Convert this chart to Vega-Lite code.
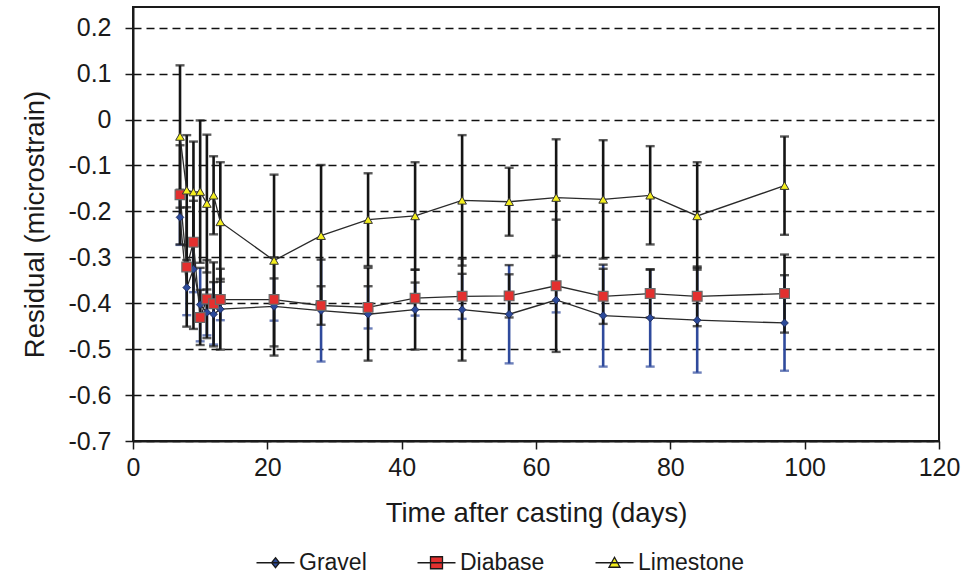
{
  "$schema": "https://vega.github.io/schema/vega-lite/v6.json",
  "width": 806,
  "height": 434,
  "autosize": {"type": "none"},
  "padding": {"left": 133, "top": 7, "right": 24, "bottom": 137},
  "background": "white",
  "config": {
    "font": "Liberation Sans",
    "view": {"stroke": "#1a1a1a", "strokeWidth": 2}
  },
  "data": {
    "values": [
      {"day": 7, "material": "Gravel", "value": -0.213, "lo": -0.273, "hi": -0.153},
      {"day": 8, "material": "Gravel", "value": -0.366, "lo": -0.426, "hi": -0.306},
      {"day": 9, "material": "Gravel", "value": -0.326, "lo": -0.376, "hi": -0.276},
      {"day": 10, "material": "Gravel", "value": -0.403, "lo": -0.483, "hi": -0.323},
      {"day": 11, "material": "Gravel", "value": -0.42, "lo": -0.47, "hi": -0.37},
      {"day": 12, "material": "Gravel", "value": -0.424, "lo": -0.49, "hi": -0.354},
      {"day": 13, "material": "Gravel", "value": -0.413, "lo": -0.437, "hi": -0.347},
      {"day": 21, "material": "Gravel", "value": -0.407, "lo": -0.438, "hi": -0.346},
      {"day": 28, "material": "Gravel", "value": -0.416, "lo": -0.527, "hi": -0.305},
      {"day": 35, "material": "Gravel", "value": -0.424, "lo": -0.455, "hi": -0.363},
      {"day": 42, "material": "Gravel", "value": -0.414, "lo": -0.427, "hi": -0.355},
      {"day": 49, "material": "Gravel", "value": -0.414, "lo": -0.434, "hi": -0.336},
      {"day": 56, "material": "Gravel", "value": -0.424, "lo": -0.531, "hi": -0.317},
      {"day": 63, "material": "Gravel", "value": -0.393, "lo": -0.42, "hi": -0.366},
      {"day": 70, "material": "Gravel", "value": -0.427, "lo": -0.538, "hi": -0.316},
      {"day": 77, "material": "Gravel", "value": -0.432, "lo": -0.538, "hi": -0.326},
      {"day": 84, "material": "Gravel", "value": -0.437, "lo": -0.551, "hi": -0.323},
      {"day": 97, "material": "Gravel", "value": -0.443, "lo": -0.547, "hi": -0.339},
      {"day": 7, "material": "Diabase", "value": -0.164, "lo": -0.272, "hi": -0.056},
      {"day": 8, "material": "Diabase", "value": -0.321, "lo": -0.451, "hi": -0.191},
      {"day": 9, "material": "Diabase", "value": -0.267, "lo": -0.456, "hi": -0.177},
      {"day": 10, "material": "Diabase", "value": -0.431, "lo": -0.491, "hi": -0.371},
      {"day": 11, "material": "Diabase", "value": -0.391, "lo": -0.476, "hi": -0.306},
      {"day": 12, "material": "Diabase", "value": -0.401, "lo": -0.494, "hi": -0.311},
      {"day": 13, "material": "Diabase", "value": -0.392, "lo": -0.501, "hi": -0.325},
      {"day": 21, "material": "Diabase", "value": -0.392, "lo": -0.514, "hi": -0.3},
      {"day": 28, "material": "Diabase", "value": -0.405, "lo": -0.447, "hi": -0.363},
      {"day": 35, "material": "Diabase", "value": -0.409, "lo": -0.525, "hi": -0.323},
      {"day": 42, "material": "Diabase", "value": -0.389, "lo": -0.501, "hi": -0.327},
      {"day": 49, "material": "Diabase", "value": -0.385, "lo": -0.525, "hi": -0.303},
      {"day": 56, "material": "Diabase", "value": -0.384, "lo": -0.431, "hi": -0.337},
      {"day": 63, "material": "Diabase", "value": -0.362, "lo": -0.506, "hi": -0.218},
      {"day": 70, "material": "Diabase", "value": -0.385, "lo": -0.445, "hi": -0.325},
      {"day": 77, "material": "Diabase", "value": -0.379, "lo": -0.431, "hi": -0.327},
      {"day": 84, "material": "Diabase", "value": -0.385, "lo": -0.45, "hi": -0.32},
      {"day": 97, "material": "Diabase", "value": -0.379, "lo": -0.464, "hi": -0.294},
      {"day": 7, "material": "Limestone", "value": -0.037, "lo": -0.192, "hi": 0.118},
      {"day": 8, "material": "Limestone", "value": -0.154, "lo": -0.274, "hi": -0.034},
      {"day": 9, "material": "Limestone", "value": -0.158, "lo": -0.268, "hi": -0.048},
      {"day": 10, "material": "Limestone", "value": -0.157, "lo": -0.312, "hi": -0.002},
      {"day": 11, "material": "Limestone", "value": -0.183, "lo": -0.333, "hi": -0.033},
      {"day": 12, "material": "Limestone", "value": -0.165, "lo": -0.25, "hi": -0.08},
      {"day": 13, "material": "Limestone", "value": -0.223, "lo": -0.353, "hi": -0.093},
      {"day": 21, "material": "Limestone", "value": -0.307, "lo": -0.494, "hi": -0.12},
      {"day": 28, "material": "Limestone", "value": -0.253, "lo": -0.407, "hi": -0.099},
      {"day": 35, "material": "Limestone", "value": -0.218, "lo": -0.319, "hi": -0.117},
      {"day": 42, "material": "Limestone", "value": -0.21, "lo": -0.327, "hi": -0.093},
      {"day": 49, "material": "Limestone", "value": -0.176, "lo": -0.318, "hi": -0.034},
      {"day": 56, "material": "Limestone", "value": -0.179, "lo": -0.253, "hi": -0.105},
      {"day": 63, "material": "Limestone", "value": -0.17, "lo": -0.297, "hi": -0.043},
      {"day": 70, "material": "Limestone", "value": -0.174, "lo": -0.303, "hi": -0.045},
      {"day": 77, "material": "Limestone", "value": -0.165, "lo": -0.272, "hi": -0.058},
      {"day": 84, "material": "Limestone", "value": -0.21, "lo": -0.327, "hi": -0.093},
      {"day": 97, "material": "Limestone", "value": -0.144, "lo": -0.251, "hi": -0.037}
    ]
  },
  "encoding": {
    "x": {
      "field": "day",
      "type": "quantitative",
      "title": "Time after casting (days)",
      "scale": {"domain": [0, 120], "nice": false},
      "axis": {
        "values": [0, 20, 40, 60, 80, 100, 120],
        "grid": false,
        "labelFlush": false,
        "domainColor": "#1a1a1a",
        "domainWidth": 2,
        "tickColor": "#1a1a1a",
        "tickWidth": 1.5,
        "tickSize": 8,
        "labelFontSize": 25,
        "labelColor": "#1a1a1a",
        "labelPadding": 6,
        "titleFontSize": 27.5,
        "titleFontWeight": "normal",
        "titleColor": "#1a1a1a",
        "titlePadding": 19
      }
    }
  },
  "layer": [
    {
      "transform": [{"filter": "datum.material == 'Gravel'"}],
      "mark": {"type": "rule", "color": "#2f4a9c", "strokeWidth": 2.6},
      "encoding": {
        "y": {
          "field": "lo",
          "type": "quantitative",
          "title": "Residual (microstrain)",
          "scale": {"domain": [-0.7, 0.245], "nice": false, "zero": false},
          "axis": {
            "values": [-0.7, -0.6, -0.5, -0.4, -0.3, -0.2, -0.1, 0, 0.1, 0.2],
            "labelExpr": "'' + datum.value",
            "labelFlush": false,
            "grid": true,
            "gridColor": "#111111",
            "gridDash": [8, 5],
            "gridWidth": 1.6,
            "domainColor": "#1a1a1a",
            "domainWidth": 2,
            "tickColor": "#1a1a1a",
            "tickWidth": 1.5,
            "tickSize": 8,
            "labelFontSize": 25,
            "labelColor": "#1a1a1a",
            "labelPadding": 14,
            "titleFontSize": 27.5,
            "titleFontWeight": "normal",
            "titleColor": "#1a1a1a",
            "titlePadding": 18
          }
        },
        "y2": {"field": "hi"}
      }
    },
    {
      "transform": [{"filter": "datum.material == 'Gravel'"}],
      "mark": {"type": "tick", "orient": "horizontal", "color": "#2f4a9c", "size": 9, "thickness": 2.4},
      "encoding": {"y": {"field": "lo", "type": "quantitative", "title": "Residual (microstrain)"}}
    },
    {
      "transform": [{"filter": "datum.material == 'Gravel'"}],
      "mark": {"type": "tick", "orient": "horizontal", "color": "#111111", "size": 9, "thickness": 2.4},
      "encoding": {"y": {"field": "hi", "type": "quantitative", "title": "Residual (microstrain)"}}
    },
    {
      "transform": [{"filter": "datum.material != 'Gravel'"}],
      "mark": {"type": "rule", "color": "#151515", "strokeWidth": 2.6},
      "encoding": {
        "y": {"field": "lo", "type": "quantitative", "title": "Residual (microstrain)"},
        "y2": {"field": "hi"}
      }
    },
    {
      "transform": [{"filter": "datum.material != 'Gravel'"}],
      "mark": {"type": "tick", "orient": "horizontal", "color": "#151515", "size": 9, "thickness": 2.4},
      "encoding": {"y": {"field": "lo", "type": "quantitative", "title": "Residual (microstrain)"}}
    },
    {
      "transform": [{"filter": "datum.material != 'Gravel'"}],
      "mark": {"type": "tick", "orient": "horizontal", "color": "#151515", "size": 9, "thickness": 2.4},
      "encoding": {"y": {"field": "hi", "type": "quantitative", "title": "Residual (microstrain)"}}
    },
    {
      "mark": {"type": "line", "color": "#2a2a2a", "strokeWidth": 1.3},
      "encoding": {
        "y": {"field": "value", "type": "quantitative", "title": "Residual (microstrain)"},
        "detail": {"field": "material", "type": "nominal"}
      }
    },
    {
      "transform": [{"filter": "datum.material == 'Gravel'"}],
      "mark": {"type": "point", "shape": "diamond", "filled": true, "size": 60, "fill": "#2b4a9b", "stroke": "#1b2550", "strokeWidth": 0.8, "opacity": 1},
      "encoding": {"y": {"field": "value", "type": "quantitative", "title": "Residual (microstrain)"}}
    },
    {
      "transform": [{"filter": "datum.material == 'Diabase'"}],
      "mark": {"type": "point", "shape": "square", "filled": true, "size": 95, "fill": "#e3302f", "stroke": "#6a6a6a", "strokeWidth": 1.2, "opacity": 1},
      "encoding": {"y": {"field": "value", "type": "quantitative", "title": "Residual (microstrain)"}}
    },
    {
      "transform": [{"filter": "datum.material == 'Limestone'"}],
      "mark": {"type": "point", "shape": "triangle-up", "filled": true, "size": 75, "fill": "#f4ee1e", "stroke": "#333333", "strokeWidth": 1, "opacity": 1},
      "encoding": {"y": {"field": "value", "type": "quantitative", "title": "Residual (microstrain)"}}
    },
    {
      "mark": {"type": "point", "filled": true, "opacity": 0},
      "encoding": {
        "y": {"field": "value", "type": "quantitative", "title": "Residual (microstrain)"},
        "color": {
          "field": "material",
          "type": "nominal",
          "scale": {"domain": ["Gravel", "Diabase", "Limestone"], "range": ["#2b4a9b", "#e3302f", "#f4ee1e"]},
          "legend": {
            "title": null,
            "orient": "none",
            "legendX": 131,
            "legendY": 544,
            "direction": "horizontal",
            "columns": 3,
            "symbolSize": 100,
            "symbolStrokeColor": "#1a1a1a",
            "symbolStrokeWidth": 1.3,
            "symbolOpacity": 1,
            "labelFontSize": 23,
            "labelColor": "#1a1a1a",
            "labelOffset": 12,
            "columnPadding": 47,
            "encode": {"symbols": {"update": {"opacity": {"value": 1}, "stroke": {"value": "#1a1a1a"}, "strokeWidth": {"value": 1.3}}}}
          }
        },
        "shape": {
          "field": "material",
          "type": "nominal",
          "scale": {
            "domain": ["Gravel", "Diabase", "Limestone"],
            "range": [
              "M-3.8,0H3.8M0,-1L0.8,0L0,1L-0.8,0Z",
              "M-3.8,0H3.8M-1.2,-1.2H1.2V1.2H-1.2Z",
              "M-3.8,0H3.8M0,-1.1L1.1,0.9H-1.1Z"
            ]
          }
        }
      }
    }
  ]
}
